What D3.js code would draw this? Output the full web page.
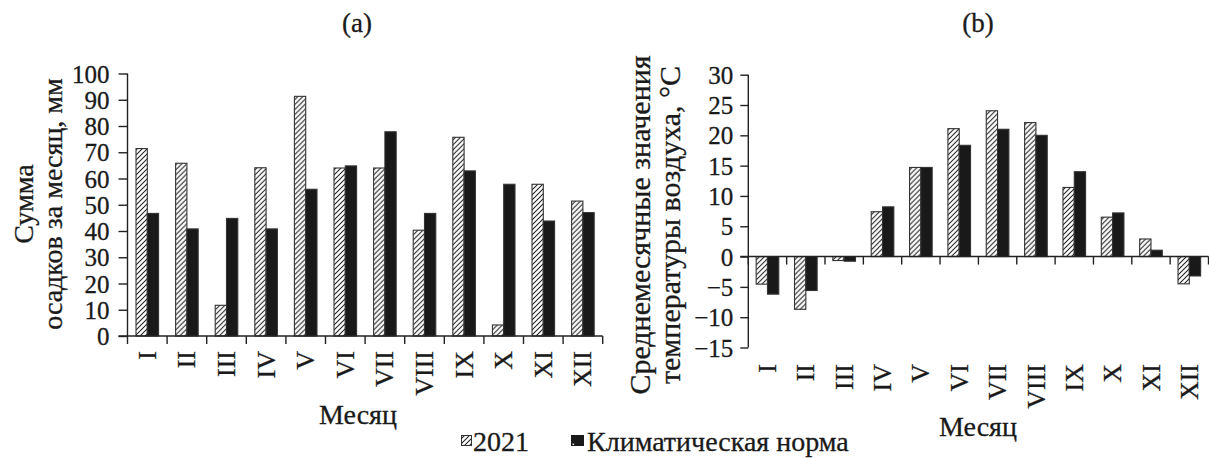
<!DOCTYPE html>
<html>
<head>
<meta charset="utf-8">
<script src="https://cdn.jsdelivr.net/npm/d3@7"></script>
<style>
  html, body { margin: 0; padding: 0; background: #fff; }
  svg { display: block; }
  text { font-family: "Liberation Serif", "DejaVu Serif", serif; fill: #1a1a1a; stroke: #1a1a1a; stroke-width: 0.3px; }
</style>
</head>
<body>
<svg id="chart" width="1209" height="458"></svg>
<script>
// Months (Roman numerals)
const months = ["I", "II", "III", "IV", "V", "VI", "VII", "VIII", "IX", "X", "XI", "XII"];
const seriesNames = ["2021", "Климатическая норма"];

// (a) monthly precipitation, mm
const precip2021 = [71.4, 65.8, 11.7, 64.1, 91.3, 64.0, 64.0, 40.3, 75.7, 4.2, 57.8, 51.4];
const precipNorm = [46.7, 40.8, 44.8, 40.8, 55.9, 64.8, 77.8, 46.7, 62.9, 57.8, 43.8, 47.0];
const precipTicks = [0, 10, 20, 30, 40, 50, 60, 70, 80, 90, 100];

// (b) mean monthly air temperature, °C
const temp2021 = [-4.55, -8.7, -0.66, 7.4, 14.7, 21.1, 24.05, 22.1, 11.4, 6.5, 2.9, -4.5];
const tempNorm = [-6.2, -5.6, -0.77, 8.2, 14.7, 18.35, 21.0, 20.0, 14.0, 7.2, 1.05, -3.2];
const tempTicks = [-15, -10, -5, 0, 5, 10, 15, 20, 25, 30];

const svg = d3.select("#chart");
const defs = svg.append("defs");
const INK = "#222";
const SERIF = "Liberation Serif, DejaVu Serif, serif";

// Diagonal hatch for the 2021 series
const hatch = defs.append("pattern")
  .attr("id", "hatch")
  .attr("patternUnits", "userSpaceOnUse")
  .attr("width", 5).attr("height", 5);
hatch.append("rect").attr("width", 5).attr("height", 5).attr("fill", "#fff");
hatch.append("path")
  .attr("d", "M-1,1 l2,-2 M0,5 l5,-5 M4,6 l2,-2")
  .attr("stroke", "#1e1e1e").attr("stroke-width", 1.05);

function dotPattern(id, x0, step, offset) {
  const p = defs.append("pattern")
    .attr("id", id)
    .attr("patternUnits", "userSpaceOnUse")
    .attr("x", x0).attr("y", 0)
    .attr("width", step).attr("height", 16.5);
  p.append("rect").attr("width", step).attr("height", 16.5).attr("fill", "#191919");
  p.append("rect").attr("x", offset - 0.75).attr("y", 8).attr("width", 1.6).attr("height", 1.6)
    .attr("fill", "#e0e0e0");
}

function panel(cfg) {
  const g = svg.append("g");
  const x0 = d3.scaleBand().domain(months).range([cfg.left, cfg.right])
    .paddingInner(cfg.pad).paddingOuter(cfg.pad / 2);
  const x1 = d3.scaleBand().domain(seriesNames).range([0, x0.bandwidth()]);
  const y = d3.scaleLinear().domain(cfg.domain).range([cfg.bottom, cfg.top]);

  const dotId = "dots-" + cfg.key;
  dotPattern(dotId, cfg.left, x0.step(),
    (x0.step() - x0.bandwidth()) / 2 + x1.bandwidth() * 1.66);

  const rows = months.map((m, i) => ({ m, vals: [cfg.a[i], cfg.b[i]] }));
  const grp = g.selectAll("g.month").data(rows).join("g")
    .attr("transform", d => `translate(${x0(d.m)},0)`);
  grp.selectAll("rect").data(d => d.vals.map((v, k) => ({ v, s: seriesNames[k] })))
    .join("rect")
    .attr("x", d => x1(d.s))
    .attr("width", x1.bandwidth())
    .attr("y", d => y(Math.max(0, d.v)))
    .attr("height", d => Math.abs(y(d.v) - y(0)))
    .attr("fill", d => d.s === seriesNames[0] ? "url(#hatch)" : `url(#${dotId})`)
    .attr("stroke", "#333").attr("stroke-width", 1.1);

  // Y axis
  const yAxis = d3.axisLeft(y).tickValues(cfg.ticks).tickSize(cfg.tickLen)
    .tickPadding(cfg.tickPad)
    .tickFormat(v => v < 0 ? "\u2212" + Math.abs(v) : String(v));
  const ya = g.append("g").attr("transform", `translate(${cfg.left},0)`).call(yAxis)
    .attr("font-family", SERIF);
  ya.select(".domain").attr("d", `M0,${y(cfg.domain[1])}V${y(cfg.domain[0])}`)
    .attr("stroke", INK).attr("stroke-width", 1.4);
  ya.selectAll(".tick line").attr("stroke", INK).attr("stroke-width", 1.4);
  ya.selectAll(".tick text").attr("font-size", 25).attr("dy", "0.34em")
    .attr("fill", "#1a1a1a");

  // X axis along zero with ticks at month boundaries
  const y0 = y(0);
  g.append("line").attr("x1", cfg.left - cfg.tickLen).attr("x2", cfg.right)
    .attr("y1", y0).attr("y2", y0).attr("stroke", INK).attr("stroke-width", 1.4);
  const bounds = d3.range(months.length + 1).map(i => cfg.left + i * x0.step());
  g.selectAll("line.xt").data(bounds).join("line").attr("class", "xt")
    .attr("x1", d => d).attr("x2", d => d)
    .attr("y1", y0).attr("y2", y0 + 8)
    .attr("stroke", INK).attr("stroke-width", 1.4);

  // Month labels, rotated
  g.selectAll("text.month").data(months).join("text").attr("class", "month")
    .attr("transform", m => `translate(${x0(m) + x0.bandwidth() / 2},${cfg.labelTop}) rotate(-90)`)
    .attr("text-anchor", "end").attr("dy", "0.33em")
    .attr("font-size", 26).text(m => m);

  // Axis title (rotated, two lines)
  cfg.yTitle.forEach((line, i) => {
    g.append("text")
      .attr("transform", `translate(${cfg.yTitleX[i]},${cfg.yTitleY}) rotate(-90)`)
      .attr("text-anchor", "middle").attr("font-size", cfg.titleSize).text(line);
  });

  g.append("text").attr("x", cfg.xTitleX).attr("y", cfg.xTitleY)
    .attr("text-anchor", "middle").attr("font-size", 28).text("Месяц");
  g.append("text").attr("x", cfg.panelX).attr("y", 32)
    .attr("text-anchor", "middle").attr("font-size", 27).text(cfg.panelLabel);
}

panel({
  key: "a", a: precip2021, b: precipNorm, domain: [0, 100], ticks: precipTicks,
  left: 127.5, right: 602.7, top: 73.5, bottom: 336, pad: 0.43,
  tickLen: 9, tickPad: 9, labelTop: 351,
  yTitle: ["Сумма", "осадков за месяц, мм"], yTitleX: [33, 62], yTitleY: 204, titleSize: 28,
  xTitleX: 358, xTitleY: 424, panelX: 357, panelLabel: "(a)"
});

panel({
  key: "b", a: temp2021, b: tempNorm, domain: [-15, 30], ticks: tempTicks,
  left: 748.3, right: 1208.5, top: 74.7, bottom: 347.5, pad: 0.41,
  tickLen: 8, tickPad: 7, labelTop: 364,
  yTitle: ["Среднемесячные значения", "температуры воздуха, °С"], yTitleX: [650, 680], yTitleY: 225, titleSize: 30,
  xTitleX: 978, xTitleY: 436, panelX: 978, panelLabel: "(b)"
});

// Legend
const lg = svg.append("g");
lg.append("rect").attr("x", 461.5).attr("y", 435.5).attr("width", 10).attr("height", 10)
  .attr("fill", "url(#hatch)").attr("stroke", "#333").attr("stroke-width", 1);
lg.append("text").attr("x", 473).attr("y", 451).attr("font-size", 28).text(seriesNames[0]);
lg.append("rect").attr("x", 571).attr("y", 435).attr("width", 13).attr("height", 11)
  .attr("fill", "#191919");
lg.append("rect").attr("x", 572.5).attr("y", 443.5).attr("width", 1.6).attr("height", 1.6)
  .attr("fill", "#e0e0e0");
lg.append("text").attr("x", 587).attr("y", 451).attr("font-size", 28).text(seriesNames[1]);
</script>
</body>
</html>
